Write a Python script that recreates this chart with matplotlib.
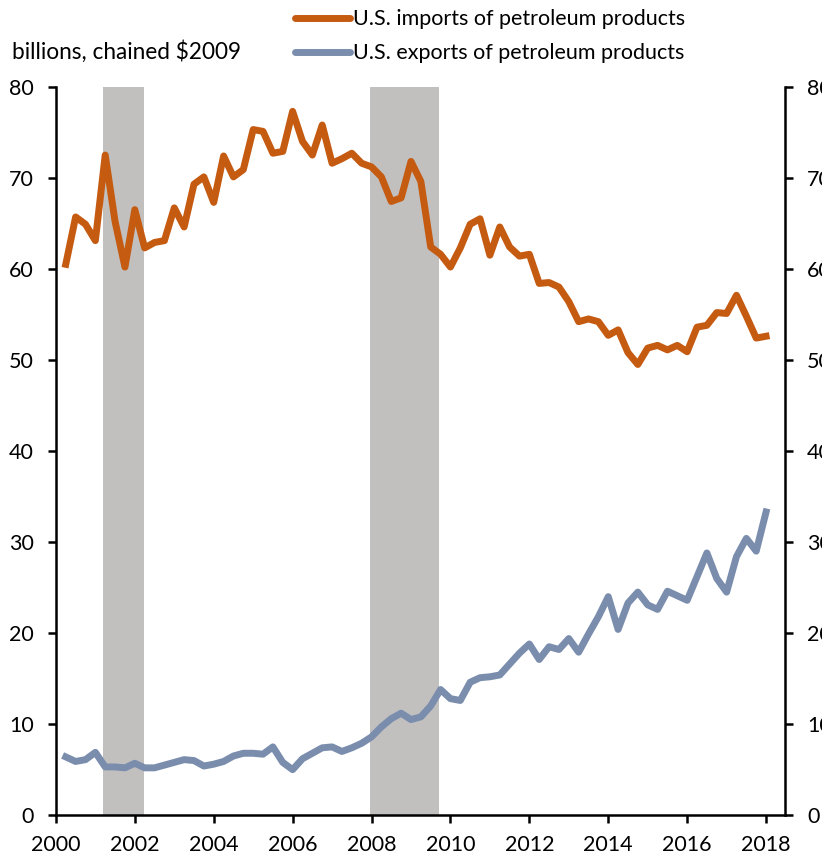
import numpy as np
import matplotlib.pyplot as plt

plt.rcParams['font.family'] = ['Lato', 'DejaVu Sans']

# quarterly, 2000Q1 .. 2017Q4 (plotted at quarter end)
start_year = 2000
imports = [60.5, 65.7, 64.9, 63.1, 72.5, 65.2, 60.2, 66.5, 62.3, 62.9, 63.1, 66.7,
           64.6, 69.3, 70.1, 67.3, 72.4, 70.1, 70.9, 75.3, 75.1, 72.7, 72.9, 77.3,
           74.0, 72.5, 75.8, 71.6, 72.1, 72.7, 71.6, 71.2, 70.1, 67.4, 67.8, 71.8,
           69.6, 62.4, 61.6, 60.2, 62.3, 64.9, 65.5, 61.5, 64.6, 62.4, 61.4, 61.6,
           58.4, 58.5, 58.0, 56.4, 54.2, 54.5, 54.2, 52.7, 53.3, 50.8, 49.5, 51.3,
           51.6, 51.1, 51.6, 50.9, 53.6, 53.8, 55.2, 55.1, 57.1, 54.8, 52.4, 52.6]
exports = [6.4, 5.9, 6.1, 6.9, 5.3, 5.3, 5.2, 5.7, 5.2, 5.2, 5.5, 5.8,
           6.1, 6.0, 5.4, 5.6, 5.9, 6.5, 6.8, 6.8, 6.7, 7.5, 5.8, 5.0,
           6.2, 6.8, 7.4, 7.5, 7.0, 7.4, 7.9, 8.6, 9.7, 10.6, 11.2, 10.5,
           10.8, 12.0, 13.8, 12.8, 12.6, 14.6, 15.1, 15.2, 15.4, 16.6, 17.8, 18.8,
           17.1, 18.5, 18.2, 19.4, 17.9, 19.9, 21.8, 24.0, 20.4, 23.3, 24.5, 23.1,
           22.6, 24.6, 24.1, 23.6, 26.2, 28.8, 26.0, 24.5, 28.4, 30.4, 29.0, 33.3]
recessions = [(2001.2, 2002.23), (2007.95, 2009.72)]

x = start_year + 0.25 * (np.arange(len(imports)) + 1)

orange = '#C55A11'
blue = '#7A8DAD'

fig = plt.figure(figsize=(8.22, 8.59), dpi=100)
ax = fig.add_axes([0.068, 0.051, 0.887, 0.848])

for r0, r1 in recessions:
    ax.axvspan(r0, r1, color='#C1C0BF', lw=0, zorder=0)

ax.plot(x, imports, color=orange, lw=5, solid_joinstyle='round',
        label='U.S. imports of petroleum products')
ax.plot(x, exports, color=blue, lw=5, solid_joinstyle='round',
        label='U.S. exports of petroleum products')

ax.set_xlim(2000, 2018.48)
ax.set_ylim(0, 80)
ax.set_xticks(range(2000, 2019, 2))
ax.set_yticks(range(0, 81, 10))
ax.spines['top'].set_visible(False)
for s in ['left', 'right', 'bottom']:
    ax.spines[s].set_linewidth(1.8)
ax.tick_params(axis='both', direction='out', length=6, width=1.8, labelsize=15.5)
ax.tick_params(axis='y', right=True, labelright=True, pad=10)
ax.tick_params(axis='x', pad=8)

fig.text(0.014, 0.9395, 'billions, chained $2009', fontsize=16.3, va='center')
leg = ax.legend(loc='upper left', bbox_to_anchor=(0.359, 0.989),
                bbox_transform=fig.transFigure, frameon=False, fontsize=15.5,
                handlelength=2.55, handletextpad=0.14, labelspacing=0.65,
                borderaxespad=0.0, borderpad=0.0)
for line in leg.get_lines():
    line.set_linewidth(5)
    line.set_solid_capstyle('round')

fig.savefig('out.png', dpi=100)
